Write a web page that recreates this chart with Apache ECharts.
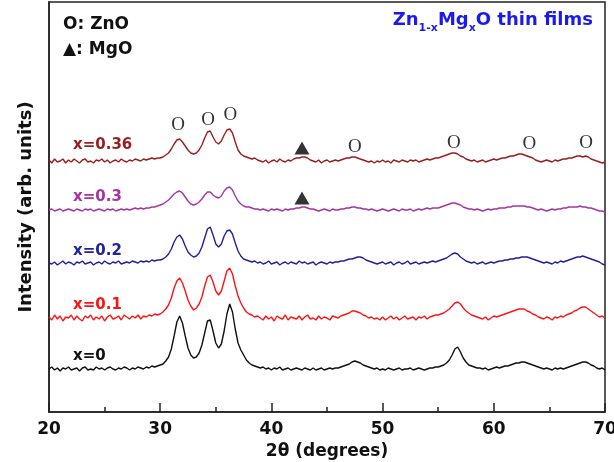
<!DOCTYPE html>
<html>
<head>
<meta charset="utf-8">
<script src="https://cdn.jsdelivr.net/npm/echarts@6/dist/echarts.min.js"></script>
<style>
  html, body { margin: 0; padding: 0; background: #fff; }
  #main { width: 614px; height: 462px; }
</style>
</head>
<body>
<div id="main"></div>
<script type="text/javascript">
// 2theta grid: 20 .. 70 deg, step 0.25 (201 points per scan)
var angleStart = 20, angleStep = 0.25;

// scan intensities above each baseline (arb. units)
var scanX0 = [
  0,2,-1,1,-2,1,0,2,-1,0,1,-2,1,2,-1,0,-1,2,0,1,-1,1,2,0,-1,1,0,2,1,-1,1,0,2,1,0,2,1,3,2,3,
  4,5,8,12,20,33,47,53,46,33,21,14,11,12,16,24,36,48,49,38,26,21,25,38,55,65,57,40,26,19,14,9,6,4,3,2,
  1,2,0,1,-1,1,0,2,-1,0,1,-1,0,1,0,-1,1,0,-1,1,-1,0,1,-1,0,1,0,1,
  1,2,3,4,5,7,8,7,6,4,3,2,1,0,1,-1,
  0,-1,1,0,-1,0,1,-1,0,0,1,-1,0,1,0,-1,0,1,1,2,
  2,3,4,6,9,14,20,22,17,11,7,4,3,2,1,1,
  0,1,-1,0,1,2,1,2,
  3,3,4,5,6,6,7,7,6,5,4,3,2,1,0,1,
  0,-1,1,0,1,0,1,2,
  3,4,5,6,7,7,6,4,3,1,0,1,-1
];
var scanX01 = [
  1,-2,3,-1,2,-3,1,0,3,-2,2,-1,-3,2,0,3,-2,1,-1,2,-3,1,3,-1,0,2,-2,3,1,-1,2,0,3,-1,2,1,3,2,4,3,
  4,6,9,13,20,30,37,40,35,27,18,12,8,10,14,21,32,41,43,36,27,23,27,37,47,50,44,32,22,15,10,6,4,3,1,2,
  0,-2,2,-1,1,-3,2,0,-1,3,-2,1,0,-1,2,-2,1,3,-1,0,-2,2,-1,1,0,-2,2,1,
  0,2,3,4,5,7,7,6,5,3,2,0,1,-1,0,-2,
  1,-2,0,2,-1,1,-2,0,2,-1,0,1,-2,1,0,2,-1,1,2,3,
  3,4,5,7,9,12,15,16,14,10,7,5,3,2,1,0,
  -1,1,-2,0,2,1,2,3,
  4,5,6,7,8,9,9,9,7,6,4,3,1,0,-1,1,
  0,-2,1,0,2,1,3,4,
  5,7,8,10,11,11,9,7,5,3,1,2,0
];
var scanX02 = [
  0,-1,1,-2,0,2,-1,1,0,-2,1,0,2,-1,0,1,-2,0,1,-1,2,0,-1,1,0,2,-1,0,1,0,2,1,0,2,1,2,1,3,2,3,
  3,4,6,9,14,21,26,28,24,17,11,8,6,7,10,16,25,34,36,28,19,16,19,27,32,33,29,20,12,7,4,3,2,1,2,0,
  1,-1,0,2,-1,0,1,-2,0,1,-1,1,0,-1,2,0,1,-1,0,1,-2,0,1,0,-1,1,0,1,
  1,2,2,3,4,4,5,6,6,5,3,2,1,0,-1,0,
  1,-1,0,1,-2,0,1,-1,0,2,-1,0,1,-1,0,1,0,1,2,1,
  2,3,4,5,7,9,10,9,6,4,2,1,0,1,-1,0,
  1,-1,0,1,0,1,2,2,
  3,3,4,4,5,5,6,6,6,5,4,3,2,1,0,1,
  0,-1,1,0,2,1,2,3,
  4,5,6,6,7,6,5,4,3,2,1,-1,-2
];
var scanX03 = [
  0,1,-1,0,1,-1,0,1,0,-1,1,0,-1,1,0,1,-1,0,1,0,-1,1,0,1,-1,0,1,0,1,0,1,2,1,2,1,2,2,3,3,4,
  5,6,8,10,13,16,18,19,17,13,9,6,5,6,8,11,15,18,18,15,13,12,14,19,22,23,20,14,9,6,4,3,3,2,1,1,
  0,1,0,-1,1,0,1,0,-1,1,0,1,1,2,2,3,3,2,1,1,0,-1,0,1,0,-1,1,0,
  0,1,1,2,2,3,3,2,2,1,1,0,1,0,-1,0,
  1,0,-1,0,1,0,-1,1,0,0,1,-1,0,1,0,1,2,1,2,2,
  2,3,4,5,6,7,7,6,5,3,2,1,1,0,1,0,
  -1,0,1,0,1,1,2,2,
  2,3,3,4,4,4,4,4,3,3,2,1,0,1,0,-1,
  0,1,0,1,1,2,2,3,
  3,3,3,4,3,3,2,2,1,0,-1,-1,-2
];
var scanX036 = [
  1,-2,2,-1,0,2,-2,1,-1,2,0,-2,1,2,-1,0,-2,1,0,2,-1,1,-2,0,1,-1,2,0,-1,1,0,2,1,0,2,1,2,3,2,3,
  3,4,6,8,12,17,21,22,19,15,11,8,7,8,11,16,23,29,30,24,19,17,20,26,31,32,28,19,11,7,5,4,3,2,3,1,
  0,-1,1,-2,0,1,-1,2,0,-1,1,0,2,3,3,4,4,3,1,0,-1,1,-2,0,1,-1,0,1,
  0,1,2,3,3,4,4,3,2,1,0,-1,0,-2,0,-1,
  1,-1,0,-2,1,0,-1,1,0,-1,1,0,1,-1,0,1,2,1,2,3,
  3,4,5,6,7,8,8,7,5,4,2,1,0,1,-1,0,
  1,-1,0,1,2,1,2,3,
  3,4,5,5,6,7,7,6,5,4,3,1,0,-1,0,1,
  0,-1,1,0,1,2,2,3,
  3,4,5,5,4,5,4,2,1,0,-1,-2,-1
];

var scans = [scanX0, scanX01, scanX02, scanX03, scanX036];
var scanNames = ['x=0', 'x=0.1', 'x=0.2', 'x=0.3', 'x=0.36'];
var scanOffsets = [43, 94, 149, 202, 251];
var scanColors = ['#111111', '#ff1414', '#22229a', '#a633a6', '#9a1e1e'];

// peak markers (2theta, intensity)
var znoAngles = [31.6, 34.3, 36.3, 47.5, 56.4, 63.2, 68.3];
var znoLevels = [287, 292, 297, 265, 269, 268, 269];
var mgoAngles = [42.75, 42.75];
var mgoLevels = [264, 214];

var FONT = 'DejaVu Sans';

var series = scans.map(function (s, k) {
    return {
        name: scanNames[k],
        type: 'line',
        showSymbol: false,
        animation: false,
        lineStyle: { width: 1.4, color: scanColors[k] },
        data: s.map(function (v, i) { return [angleStart + i * angleStep, v + scanOffsets[k]]; })
    };
});

series.push({
    type: 'scatter',
    symbolSize: 1,
    itemStyle: { color: 'rgba(0,0,0,0)' },
    label: {
        show: true, position: 'inside', formatter: 'O',
        fontFamily: 'Liberation Serif', fontSize: 19, color: '#000',
        textBorderWidth: 0
    },
    data: znoAngles.map(function (a, i) { return [a, znoLevels[i]]; })
});
series.push({
    type: 'scatter',
    symbol: 'triangle',
    symbolSize: [15, 13],
    itemStyle: { color: '#000' },
    data: mgoAngles.map(function (a, i) { return [a, mgoLevels[i]]; })
});

// trace labels, left side
var labelTops = [358, 307, 253, 199, 147];
var graphics = scanNames.map(function (n, k) {
    return {
        type: 'text', left: 73, top: labelTops[k] - 9,
        style: { text: n, fill: scanColors[k], font: 'bold 15px ' + FONT }
    };
});
graphics.push({ type: 'text', left: 63, top: 16, style: { text: 'O: ZnO', fill: '#111', font: 'bold 17px ' + FONT } });
graphics.push({ type: 'text', left: 63, top: 41, style: { text: '\u25B2: MgO', fill: '#111', font: 'bold 17px ' + FONT } });
graphics.push({
    type: 'text', right: 21, top: 11,
    style: {
        text: '{a|Zn}{s|1-x}{a|Mg}{s|x}{a|O thin films}',
        fill: '#1a1aee',
        rich: {
            a: { fontFamily: FONT, fontWeight: 'bold', fontSize: 18, lineHeight: 27, verticalAlign: 'middle', fill: '#1a1aee' },
            s: { fontFamily: FONT, fontWeight: 'bold', fontSize: 11, lineHeight: 12, verticalAlign: 'bottom', fill: '#1a1aee' }
        }
    }
});

var chart = echarts.init(document.getElementById('main'));
chart.setOption({
    animation: false,
    grid: {
        left: 49, right: 9, top: 2, bottom: 50, outerBoundsMode: 'none', containLabel: false,
        show: true, borderColor: '#222', borderWidth: 1.5, backgroundColor: 'transparent'
    },
    xAxis: {
        type: 'value', min: 20, max: 70, interval: 10,
        name: '2\u03B8 (degrees)', nameLocation: 'middle', nameGap: 31,
        nameTextStyle: { fontFamily: FONT, fontWeight: 'bold', fontSize: 17, color: '#111' },
        axisLine: { lineStyle: { color: '#222', width: 1.5 } },
        axisTick: { inside: true, length: 9, lineStyle: { color: '#222', width: 1.5 } },
        minorTick: { show: true, splitNumber: 2, length: 5, lineStyle: { color: '#222', width: 1.5 } },
        axisLabel: { margin: 9, fontFamily: FONT, fontWeight: 'bold', fontSize: 17, color: '#111' },
        splitLine: { show: false }
    },
    yAxis: {
        type: 'value', min: 0, max: 410,
        name: 'Intensity (arb. units)', nameLocation: 'middle', nameGap: 14, nameRotate: 90,
        nameTextStyle: { fontFamily: FONT, fontWeight: 'bold', fontSize: 18, color: '#111' },
        axisLine: { show: true, lineStyle: { color: '#222', width: 1.5 } },
        axisTick: { show: false },
        axisLabel: { show: false },
        splitLine: { show: false }
    },
    graphic: graphics,
    series: series
});
</script>
</body>
</html>
